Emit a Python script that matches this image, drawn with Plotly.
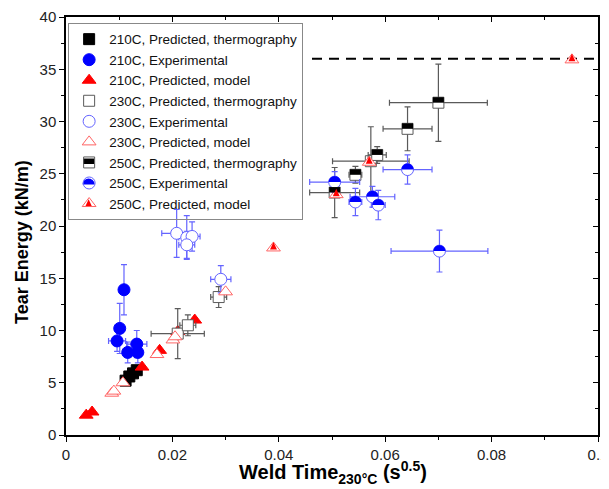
import numpy as np
import plotly.graph_objects as go

# ---------------- data ----------------
# 210C
t210_x = [0.0112, 0.0119, 0.0126, 0.0133]
t210_y = [5.2, 5.6, 5.9, 6.2]
t210_ex = [0.0005, 0.0005, 0.0005, 0.0005]
t210_ey = [0.3, 0.3, 0.3, 0.3]

e210_x = [0.0109, 0.0101, 0.0096, 0.0116, 0.0133, 0.0135]
e210_y = [13.9, 10.2, 9.0, 7.9, 8.7, 7.9]
e210_ex = [0.0004, 0.0005, 0.0016, 0.0008, 0.0019, 0.0008]
e210_ey = [2.4, 2.4, 1.0, 1.0, 1.3, 1.0]

m210_x = [0.0038, 0.0049, 0.0143, 0.0176, 0.0210, 0.0242]
m210_y = [1.9, 2.2, 6.5, 8.1, 9.9, 11.0]

# 230C
t230_x = [0.0210, 0.0229, 0.0287, 0.0573]
t230_y = [9.7, 10.5, 13.2, 26.2]
t230_ex = [0.0050, 0.0015, 0.0015, 0.0072]
t230_ey = [2.4, 1.0, 1.0, 3.3]

e230_x = [0.0208, 0.0227, 0.0237, 0.0227, 0.0291]
e230_y = [19.3, 18.9, 19.0, 18.2, 14.9]
e230_ex = [0.0028, 0.0015, 0.0015, 0.0015, 0.0019]
e230_ey = [2.3, 2.1, 1.4, 1.3, 1.3]

m230_x = [0.0086, 0.0090, 0.0107, 0.0171, 0.0201, 0.0205, 0.0300]
m230_y = [4.0, 4.2, 5.0, 7.7, 9.1, 9.4, 13.7]

# 250C
t250_x = [0.0505, 0.0544, 0.0585, 0.0642, 0.0700]
t250_y = [23.2, 24.9, 26.8, 29.3, 31.8]
t250_ex = [0.0047, 0.0012, 0.0017, 0.0046, 0.0092]
t250_ey = [2.4, 0.8, 0.8, 2.1, 3.7]

e250_x = [0.0505, 0.0544, 0.0576, 0.0587, 0.0642, 0.0702]
e250_y = [24.2, 22.3, 22.8, 22.0, 25.4, 17.6]
e250_ex = [0.0047, 0.0012, 0.0042, 0.0013, 0.0046, 0.0091]
e250_ey = [1.0, 1.3, 1.0, 1.4, 1.4, 2.0]

m250_x = [0.0390, 0.0508, 0.0570, 0.0951]
m250_y = [17.9, 23.0, 26.1, 35.9]

limit_y = 36.0

names = ["210C, Predicted, thermography", "210C, Experimental", "210C, Predicted, model",
         "230C, Predicted, thermography", "230C, Experimental", "230C, Predicted, model",
         "250C, Predicted, thermography", "250C, Experimental", "250C, Predicted, model"]

x_ticks = [0, 0.02, 0.04, 0.06, 0.08, 0.1]
x_ticktext = ["0", "0.02", "0.04", "0.06", "0.08", "0.1"]

# ---------------- style ----------------
BLUE = "rgb(0,0,255)"
LBLUE = "rgb(100,100,255)"
RED = "rgb(255,0,0)"
LRED = "rgb(255,100,100)"
BLACK = "black"
GRAY = "rgb(90,90,90)"
CLEAR = "rgba(255,255,255,0)"
SQ, CI, TR = 11, 12, 12
FONT = "Arial, Liberation Sans, sans-serif"

# The page body has an 8 px default margin, so the figure is drawn 8 px in from
# the window's top-left corner; size and margins compensate for that.
OFF = 8
W, H = 609 - OFF, 489 - OFF
ML, MR, MT, MB = 66 - OFF, 11, 17 - OFF, 54
PW, PH = W - ML - MR, H - MT - MB

def px_to_paper_x(px):   # px: window pixel
    return (px - OFF - ML) / PW

def px_to_paper_y(py):
    return (MT + PH - (py - OFF)) / PH

# legend geometry
LEG_X, LEG_Y = 0.004, 0.986
LEG_FS = 13.5
item_h = max(LEG_FS * 1.3, 16) + 3
leg_left_px = OFF + ML + LEG_X * PW
leg_top_px = OFF + MT + (1 - LEG_Y) * PH

fig = go.Figure()

def eb(arr, color):
    return dict(type="data", array=arr, color=color, thickness=1.2, width=3)

def add(x, y, name, symbol, size, fill, line, lw, ex=None, ey=None, ecol=None, showlegend=True):
    kw = {}
    if ex is not None:
        kw["error_x"] = eb(ex, ecol)
        kw["error_y"] = eb(ey, ecol)
    fig.add_trace(go.Scatter(x=x, y=y, mode="markers", name=name, showlegend=showlegend,
                             marker=dict(symbol=symbol, size=size, color=fill,
                                         line=dict(color=line, width=lw)), **kw))

add(t210_x, t210_y, names[0], "square", SQ, BLACK, BLACK, 1, t210_ex, t210_ey, GRAY)
add(e210_x, e210_y, names[1], "circle", CI, BLUE, BLUE, 1, e210_ex, e210_ey, LBLUE)
add(m210_x, m210_y, names[2], "triangle-up", TR, RED, RED, 1)
add(t230_x, t230_y, names[3], "square", SQ, "white", GRAY, 1, t230_ex, t230_ey, GRAY)
add(e230_x, e230_y, names[4], "circle", CI, "white", LBLUE, 1, e230_ex, e230_ey, LBLUE)
add(m230_x, m230_y, names[5], "triangle-up", TR, "white", LRED, 1)
add(t250_x, t250_y, names[6], "square", SQ, "white", GRAY, 1, t250_ex, t250_ey, GRAY, False)
add(e250_x, e250_y, names[7], "circle", CI, "white", LBLUE, 1, e250_ex, e250_ey, LBLUE, False)
add(m250_x, m250_y, names[8], "triangle-up", TR, "white", LRED, 1, showlegend=False)
# legend entries for the half-filled 250C symbols (outline only; tops added as shapes)
add([None], [None], names[6], "square", SQ, CLEAR, GRAY, 1)
add([None], [None], names[7], "circle", CI, CLEAR, LBLUE, 1)
add([None], [None], names[8], "triangle-up", TR, CLEAR, LRED, 1)

# dummy trace for the mirrored (top/right) axes
fig.add_trace(go.Scatter(x=[None], y=[None], xaxis="x2", yaxis="y2", showlegend=False,
                         hoverinfo="skip"))

# ---------------- half-filled marker tops via pixel-sized shapes ----------------
def half_path(kind, size):
    r = size / 2.0
    if kind == "square":
        pts = [(-r, 0), (r, 0), (r, r), (-r, r)]
    elif kind == "circle":
        t = np.linspace(0, np.pi, 25)
        pts = list(zip(r * np.cos(t), r * np.sin(t)))
    else:  # triangle-up, plotly geometry: apex r above centre, base r/2 below
        rt = 2 * r / np.sqrt(3)
        ym = -r / 4.0
        pts = [(-rt / 2, ym), (rt / 2, ym), (0, r)]
    return "M " + " L ".join(f"{px:.2f},{py:.2f}" for px, py in pts) + " Z"

shapes = []
def half_shapes(xs, ys, kind, size, color, xref="x", yref="y"):
    for xv, yv in zip(xs, ys):
        shapes.append(dict(type="path", xref=xref, yref=yref, xsizemode="pixel",
                           ysizemode="pixel", xanchor=xv, yanchor=yv,
                           path=half_path(kind, size), fillcolor=color,
                           line=dict(width=0), layer="above"))

half_shapes(t250_x, t250_y, "square", SQ, BLACK)
half_shapes(e250_x, e250_y, "circle", CI, BLUE)
half_shapes(m250_x, m250_y, "triangle-up", TR, RED)

# legend symbol tops (legend items 7..9)
sym_x_paper = px_to_paper_x(leg_left_px + 20.5)
for i, (kind, size, col) in zip([6, 7, 8], [("square", SQ, BLACK), ("circle", CI, BLUE),
                                             ("triangle-up", TR, RED)]):
    cy_px = leg_top_px + 7.6 + item_h / 2 + i * item_h
    half_shapes([sym_x_paper], [px_to_paper_y(cy_px)], kind, size, col, "paper", "paper")

# dashed limit line (starts right of the legend box)
shapes.append(dict(type="line", xref="paper", yref="y", x0=px_to_paper_x(312), x1=1,
                   y0=limit_y, y1=limit_y,
                   line=dict(color="black", width=2, dash="10px,7px"), layer="below"))

axis_common = dict(showline=True, linecolor="black", linewidth=1.5, showgrid=False,
                   zeroline=False, automargin=False, tickcolor="black", tickwidth=1)

fig.update_layout(
    width=W, height=H,
    margin=dict(l=ML, r=MR, t=MT, b=MB),
    paper_bgcolor="white", plot_bgcolor="white",
    font=dict(family=FONT, size=15, color="#222"),
    shapes=shapes,
    showlegend=True,
    legend=dict(x=LEG_X, y=LEG_Y, xanchor="left", yanchor="top",
                bgcolor=CLEAR, bordercolor="#888", borderwidth=1,
                font=dict(family=FONT, size=LEG_FS, color="#111"), itemsizing="trace"),
    xaxis=dict(range=[0, 0.1], tickvals=x_ticks, ticktext=x_ticktext,
               ticks="outside", ticklen=5,
               minor=dict(dtick=0.01, ticks="outside", ticklen=3, tickcolor="black"),
               **axis_common),
    yaxis=dict(range=[0, 40], dtick=5, ticks="outside", ticklen=5,
               minor=dict(dtick=2.5, ticks="outside", ticklen=3, tickcolor="black"),
               **axis_common),
    xaxis2=dict(overlaying="x", side="top", range=[0, 0.1], dtick=0.02, ticks="inside",
                ticklen=5, showticklabels=False,
                minor=dict(dtick=0.01, ticks="inside", ticklen=3, tickcolor="black"),
                **axis_common),
    yaxis2=dict(overlaying="y", side="right", range=[0, 40], dtick=5, ticks="inside",
                ticklen=5, showticklabels=False,
                minor=dict(dtick=2.5, ticks="inside", ticklen=3, tickcolor="black"),
                **axis_common),
    annotations=[
        dict(text="<b>Weld Time<sub>230°C</sub> (s<sup>0.5</sup>)</b>", xref="paper",
             yref="paper", x=px_to_paper_x(333), y=px_to_paper_y(472), xanchor="center",
             yanchor="middle", showarrow=False, font=dict(family=FONT, size=20, color="black")),
        dict(text="<b>Tear Energy (kN/m)</b>", xref="paper", yref="paper",
             x=px_to_paper_x(22), y=px_to_paper_y(242), xanchor="center", yanchor="middle",
             textangle=-90, showarrow=False, font=dict(family=FONT, size=18, color="black")),
    ],
)

fig.write_html("out.html")
